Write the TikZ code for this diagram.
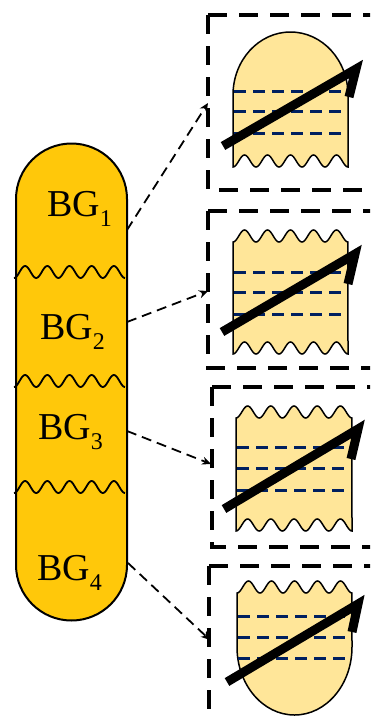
\documentclass[tikz,border=0pt]{standalone}
\usepackage{fontspec}
\setmainfont{Liberation Serif}
\usetikzlibrary{arrows.meta}
\definecolor{gold}{RGB}{255,200,10}
\definecolor{pale}{RGB}{255,230,153}
\definecolor{navy}{RGB}{0,32,96}
\tikzset{
 capsule/.style={fill=gold,draw=black,line width=2pt},
 vial/.style={fill=pale,draw=black,line width=1.5pt},
 cut/.style={draw=black,line width=1.8pt},
 frame/.style={draw=black,line width=3.5pt,dash pattern=on 19pt off 12pt},
 level/.style={draw=navy,line width=3pt,dash pattern=on 12pt off 7pt},
 stir/.style={draw=black,line width=9pt,miter limit=10},
 link/.style={draw=black,line width=1.8pt,dash pattern=on 10pt off 6pt,-{Stealth[length=9pt,width=8pt]}},
 bg/.style={anchor=base west,inner sep=0pt},
}
\newcommand{\bglabel}[1]{{\fontsize{38}{40}\selectfont BG}\raisebox{-10pt}{\fontsize{24}{26}\selectfont #1}}
\begin{document}
\begin{tikzpicture}[x=1pt,y=-1pt]
\useasboundingbox (0,0) rectangle (370,718);
\clip (0,0) rectangle (370,718);
% left capsule
\path[capsule] (16,199) arc[start angle=180,end angle=0,radius=55.5pt] -- (127,565) arc[start angle=0,end angle=-180,radius=55.5pt] -- cycle;
\draw[cut] plot[domain=0:1,samples=121,variable=\t] ({14+111*\t},{272+6*cos(1800*\t)});
\draw[cut] plot[domain=0:1,samples=121,variable=\t] ({14+111*\t},{381+6*cos(1800*\t)});
\draw[cut] plot[domain=0:1,samples=121,variable=\t] ({14+111*\t},{487+6*cos(1800*\t)});
\node[bg] (bg1) at (47,216) {\bglabel{1}};
\node[bg] (bg2) at (40,339) {\bglabel{2}};
\node[bg] (bg3) at (38,439) {\bglabel{3}};
\node[bg] (bg4) at (37,580) {\bglabel{4}};
% frames
\draw[frame] (208,15) -- (372,15);
\draw[frame] (208,15) -- (208,190) -- (372,190);
\draw[frame] (208,211) -- (372,211);
\draw[frame] (208,211) -- (208,368) -- (372,368);
\draw[frame] (212,387) -- (372,387);
\draw[frame] (212,387) -- (212,547) -- (372,547);
\draw[frame] (209,566) -- (372,566);
\draw[frame] (209,566) -- (209,730);
% vial 1
\path[vial] (233,167) -- (233,95) arc[start angle=180,end angle=0,x radius=57.5pt,y radius=63pt] -- (348,167)
  -- plot[domain=1:0,samples=121,variable=\t] ({233+115*\t},{161+6*cos(1800*\t)}) -- cycle;
\draw[level] (234,91) -- (347,91);
\draw[level] (234,111) -- (347,111);
\draw[level] (234,133) -- (347,133);
\draw[stir] (223,146) -- (356,69) -- (349,97);
% vial 2
\path[vial] plot[domain=0:1,samples=121,variable=\t] ({233+115*\t},{236+6*cos(1800*\t)})
  -- plot[domain=1:0,samples=121,variable=\t] ({233+115*\t},{348+6*cos(1800*\t)}) -- cycle;
\draw[level] (234,272) -- (347,272);
\draw[level] (234,292) -- (347,292);
\draw[level] (234,314) -- (347,314);
\draw[stir] (222,332) -- (355,254) -- (348,284);
% vial 3
\path[vial] plot[domain=0:1,samples=121,variable=\t] ({236+116*\t},{412+6*cos(1800*\t)})
  -- plot[domain=1:0,samples=121,variable=\t] ({236+116*\t},{525+6*cos(1800*\t)}) -- cycle;
\draw[level] (237,447) -- (351,447);
\draw[level] (237,468) -- (351,468);
\draw[level] (237,490) -- (351,490);
\draw[stir] (224,509) -- (358,429) -- (351,459);
% vial 4
\path[vial] plot[domain=0:1,samples=121,variable=\t] ({237+115*\t},{587+6*cos(1800*\t)})
  -- (352,647) arc[start angle=0,end angle=-180,x radius=57.5pt,y radius=68pt] -- cycle;
\draw[level] (238,616) -- (351,616);
\draw[level] (238,637) -- (351,637);
\draw[level] (238,658) -- (351,658);
\draw[stir] (227,682) -- (358,604) -- (352,632);
% connectors
\coordinate (s1) at (127,230); \coordinate (e1) at (208,103);
\coordinate (s2) at (127,322); \coordinate (e2) at (208,291);
\coordinate (s3) at (127,431); \coordinate (e3) at (211,464);
\coordinate (s4) at (128,563); \coordinate (e4) at (210,640);
\draw[link] (s1) -- (e1);
\draw[link] (s2) -- (e2);
\draw[link] (s3) -- (e3);
\draw[link] (s4) -- (e4);
\end{tikzpicture}
\end{document}
